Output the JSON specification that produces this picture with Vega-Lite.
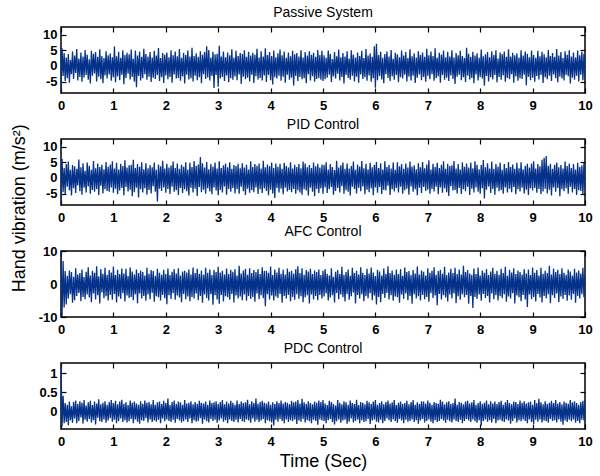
{
"$schema": "https://vega.github.io/schema/vega-lite/v6.json",
"background": "white",
"padding": {"left": 11, "top": 5, "right": 14, "bottom": 4},
"spacing": 46,
"bounds": "flush",
"title": {"text": "Hand vibration (m/s²)", "orient": "left", "anchor": "middle", "fontSize": 18, "fontWeight": "normal", "font": "Liberation Sans", "color": "black", "offset": 8, "dx": 30},
"config": {"view": {"stroke": "black", "strokeWidth": 1.5}, "font": "Liberation Sans", "title": {"fontSize": 14, "fontWeight": "normal", "offset": 6, "color": "black"}, "axis": {"domain": false, "grid": false, "tickColor": "black", "tickSize": -5, "tickWidth": 1.2, "labelFont": "Liberation Sans", "labelFontSize": 13, "labelFontWeight": "bold", "labelColor": "black", "labelFlush": false, "labelOverlap": false, "labelExpr": "'' + datum.value", "titleFont": "Liberation Sans", "titleFontSize": 18, "titleFontWeight": "normal", "titleColor": "black"}},
"data": {"values": [
{"t":0,"a":-7.9,"b":-8,"c":9.8,"d":1.22},
{"t":0.02,"a":5.6,"b":6.1,"c":-9.8,"d":-0.38},
{"t":0.04,"a":-3.2,"b":-4.5,"c":7,"d":0.41},
{"t":0.06,"a":4.1,"b":3.2,"c":-7.1,"d":-0.3},
{"t":0.08,"a":-4.8,"b":-5.1,"c":3.9,"d":0.22},
{"t":0.1,"a":2.7,"b":4.4,"c":-6.2,"d":-0.27},
{"t":0.12,"a":-3.9,"b":-2.8,"c":2.5,"d":0.18},
{"t":0.14,"a":3.8,"b":5.2,"c":-4.4,"d":-0.35},
{"t":0.16,"a":-5.3,"b":-3.9,"c":4.1,"d":0.26},
{"t":0.18,"a":1.9,"b":2.6,"c":-3.1,"d":-0.22},
{"t":0.2,"a":-2.6,"b":-5.6,"c":3.6,"d":0.14},
{"t":0.22,"a":4.6,"b":4.1,"c":-5.7,"d":-0.29},
{"t":0.24,"a":-4.1,"b":-3.3,"c":2.2,"d":0.25},
{"t":0.26,"a":3.3,"b":3.7,"c":-4.9,"d":-0.18},
{"t":0.28,"a":-2.2,"b":-4.8,"c":4.8,"d":0.29},
{"t":0.3,"a":5.4,"b":2.9,"c":-3.6,"d":-0.3},
{"t":0.32,"a":-4.6,"b":-2.4,"c":2.9,"d":0.2},
{"t":0.34,"a":2.4,"b":5.9,"c":-2.7,"d":-0.24},
{"t":0.36,"a":-3.5,"b":-4.2,"c":3.3,"d":0.27},
{"t":0.38,"a":4.3,"b":3.4,"c":-5.2,"d":-0.15},
{"t":0.4,"a":-5,"b":-5.3,"c":4.4,"d":0.23},
{"t":0.42,"a":3,"b":4.7,"c":-3.9,"d":-0.31},
{"t":0.44,"a":-3.7,"b":-3.1,"c":2.1,"d":0.3},
{"t":0.46,"a":5.1,"b":2.3,"c":-4.6,"d":-0.21},
{"t":0.48,"a":-2.9,"b":-4.6,"c":3.7,"d":0.16},
{"t":0.5,"a":3.6,"b":4.9,"c":-3.2,"d":-0.26},
{"t":0.52,"a":-4.4,"b":-2.7,"c":5.1,"d":0.24},
{"t":0.54,"a":2.1,"b":3.9,"c":-4.1,"d":-0.19},
{"t":0.56,"a":-5.6,"b":-5,"c":2.6,"d":0.28},
{"t":0.58,"a":4.8,"b":2.6,"c":-5.5,"d":-0.28},
{"t":0.6,"a":-3.1,"b":-3.8,"c":4,"d":0.17},
{"t":0.62,"a":3.9,"b":5.4,"c":-2.9,"d":-0.22},
{"t":0.64,"a":-2.4,"b":-4.4,"c":3.4,"d":0.26},
{"t":0.66,"a":4.4,"b":3.1,"c":-4.7,"d":-0.33},
{"t":0.68,"a":-4.9,"b":-3.5,"c":5.4,"d":0.21},
{"t":0.7,"a":2.9,"b":4.6,"c":-3.4,"d":-0.16},
{"t":0.72,"a":-3.4,"b":-5.4,"c":2.3,"d":0.32},
{"t":0.74,"a":5.3,"b":3.5,"c":-5.9,"d":-0.25},
{"t":0.76,"a":-4.2,"b":-2.5,"c":4.5,"d":0.19},
{"t":0.78,"a":3.2,"b":4.2,"c":-2.6,"d":-0.27},
{"t":0.8,"a":-5.5,"b":-4.9,"c":3.1,"d":0.23},
{"t":0.82,"a":2.5,"b":2.8,"c":-4.3,"d":-0.2},
{"t":0.84,"a":-3,"b":-3.6,"c":4.9,"d":0.27},
{"t":0.86,"a":4.7,"b":5.1,"c":-3.7,"d":-0.29},
{"t":0.88,"a":-4,"b":-4.1,"c":2.8,"d":0.18},
{"t":0.9,"a":3.4,"b":3.6,"c":-5,"d":-0.23},
{"t":0.92,"a":-2.7,"b":-4.4,"c":4.2,"d":0.25},
{"t":0.94,"a":4,"b":4.3,"c":-3.3,"d":-0.17},
{"t":0.96,"a":-4.7,"b":-3,"c":3.5,"d":0.3},
{"t":0.98,"a":2.8,"b":5.3,"c":-4.8,"d":-0.26},
{"t":1,"a":-3.6,"b":-4.7,"c":5.3,"d":0.22},
{"t":1.02,"a":6.2,"b":3,"c":-3,"d":-0.21},
{"t":1.04,"a":-5.2,"b":-3.4,"c":2.7,"d":0.28},
{"t":1.06,"a":3.1,"b":4.8,"c":-5.6,"d":-0.3},
{"t":1.08,"a":-3.3,"b":-5.2,"c":4.3,"d":0.19},
{"t":1.1,"a":4.5,"b":2.7,"c":-3.8,"d":-0.24},
{"t":1.12,"a":-4.5,"b":-4,"c":3,"d":0.26},
{"t":1.14,"a":2.6,"b":4.5,"c":-4.5,"d":-0.18},
{"t":1.16,"a":-2.8,"b":-3.2,"c":4.7,"d":0.31},
{"t":1.18,"a":5,"b":3.8,"c":-2.8,"d":-0.27},
{"t":1.2,"a":-5.8,"b":-5.5,"c":3.2,"d":0.2},
{"t":1.22,"a":3.5,"b":5.6,"c":-5.3,"d":-0.22},
{"t":1.24,"a":-3.8,"b":-2.9,"c":4.6,"d":0.24},
{"t":1.26,"a":4.2,"b":3.3,"c":-3.5,"d":-0.28},
{"t":1.28,"a":-2.5,"b":-4.3,"c":2.4,"d":0.17},
{"t":1.3,"a":3.7,"b":4,"c":-4.2,"d":-0.25},
{"t":1.32,"a":-4.3,"b":-3.7,"c":5,"d":0.29},
{"t":1.34,"a":5.2,"b":4.2,"c":-3.9,"d":-0.19},
{"t":1.36,"a":-3.5,"b":-5.8,"c":3.8,"d":0.23},
{"t":1.38,"a":2.3,"b":5.8,"c":-4.9,"d":-0.3},
{"t":1.4,"a":-5,"b":-4.5,"c":2.9,"d":0.26},
{"t":1.42,"a":4.9,"b":3.2,"c":-3.1,"d":-0.2},
{"t":1.44,"a":-6.8,"b":-3.1,"c":4.4,"d":0.21},
{"t":1.46,"a":3.3,"b":4.4,"c":-5.8,"d":-0.26},
{"t":1.48,"a":-3.2,"b":-6.2,"c":3.3,"d":0.18},
{"t":1.5,"a":4.6,"b":3.6,"c":-2.9,"d":-0.31},
{"t":1.52,"a":-4.6,"b":-3.6,"c":4.1,"d":0.27},
{"t":1.54,"a":2.9,"b":5,"c":-4.4,"d":-0.22},
{"t":1.56,"a":-3.9,"b":-4.6,"c":3.6,"d":0.2},
{"t":1.58,"a":5.5,"b":2.8,"c":-3.6,"d":-0.24},
{"t":1.6,"a":-2.6,"b":-3.3,"c":2.6,"d":0.29},
{"t":1.62,"a":3.8,"b":4.7,"c":-5.1,"d":-0.17},
{"t":1.64,"a":-4.4,"b":-5.3,"c":4.9,"d":0.23},
{"t":1.66,"a":3,"b":3.1,"c":-3.2,"d":-0.28},
{"t":1.68,"a":-3.4,"b":-3.8,"c":3.1,"d":0.25},
{"t":1.7,"a":4.4,"b":4.1,"c":-4.6,"d":-0.2},
{"t":1.72,"a":-5.1,"b":-4.9,"c":4.2,"d":0.19},
{"t":1.74,"a":2.7,"b":3.4,"c":-2.7,"d":-0.27},
{"t":1.76,"a":-3.7,"b":-2.6,"c":3.9,"d":0.3},
{"t":1.78,"a":4.8,"b":4.9,"c":-5.4,"d":-0.23},
{"t":1.8,"a":-4.1,"b":-4.4,"c":2.5,"d":0.18},
{"t":1.82,"a":3.3,"b":2.6,"c":-3.7,"d":-0.26},
{"t":1.84,"a":-2.9,"b":-7.5,"c":4.6,"d":0.24},
{"t":1.86,"a":5.7,"b":4.3,"c":-4,"d":-0.21},
{"t":1.88,"a":-4.8,"b":-3.4,"c":3.4,"d":0.26},
{"t":1.9,"a":2.5,"b":3.7,"c":-5,"d":-0.3},
{"t":1.92,"a":-3.6,"b":-4.1,"c":2.8,"d":0.2},
{"t":1.94,"a":4.1,"b":5.5,"c":-3.3,"d":-0.18},
{"t":1.96,"a":-5.4,"b":-3,"c":4.3,"d":0.28},
{"t":1.98,"a":3.6,"b":3,"c":-4.3,"d":-0.25},
{"t":2,"a":-3,"b":-4.7,"c":3,"d":0.22},
{"t":2.02,"a":4.3,"b":4.5,"c":-6.1,"d":-0.2},
{"t":2.04,"a":-4.2,"b":-3.5,"c":4.7,"d":0.34},
{"t":2.06,"a":2.8,"b":3.3,"c":-3.4,"d":-0.24},
{"t":2.08,"a":-3.5,"b":-5.1,"c":2.7,"d":0.17},
{"t":2.1,"a":5,"b":4,"c":-4.5,"d":-0.27},
{"t":2.12,"a":-5.3,"b":-2.8,"c":3.7,"d":0.25},
{"t":2.14,"a":3.4,"b":5.2,"c":-2.8,"d":-0.21},
{"t":2.16,"a":-2.7,"b":-4.4,"c":4.5,"d":0.29},
{"t":2.18,"a":4.6,"b":3.2,"c":-4.8,"d":-0.29},
{"t":2.2,"a":-4,"b":-3.9,"c":3.2,"d":0.2},
{"t":2.22,"a":3.1,"b":4.6,"c":-3.5,"d":-0.19},
{"t":2.24,"a":-3.8,"b":-5.4,"c":4.8,"d":0.26},
{"t":2.26,"a":5.4,"b":2.9,"c":-4.1,"d":-0.23},
{"t":2.28,"a":-4.7,"b":-3.2,"c":2.6,"d":0.24},
{"t":2.3,"a":2.6,"b":4.2,"c":-5.5,"d":-0.28},
{"t":2.32,"a":-3.3,"b":-4.8,"c":3.8,"d":0.18},
{"t":2.34,"a":4.2,"b":3.6,"c":-3,"d":-0.25},
{"t":2.36,"a":-5.6,"b":-3.6,"c":4,"d":0.3},
{"t":2.38,"a":3.5,"b":5,"c":-4.6,"d":-0.2},
{"t":2.4,"a":-2.8,"b":-4.2,"c":3.5,"d":0.21},
{"t":2.42,"a":4.9,"b":2.7,"c":-3.8,"d":-0.27},
{"t":2.44,"a":-4.3,"b":-5.6,"c":4.4,"d":0.23},
{"t":2.46,"a":3,"b":4.8,"c":-5.2,"d":-0.18},
{"t":2.48,"a":-3.9,"b":-3.1,"c":2.9,"d":0.27},
{"t":2.5,"a":5.8,"b":3.5,"c":-3.9,"d":-0.3},
{"t":2.52,"a":-4.9,"b":-4.6,"c":5,"d":0.19},
{"t":2.54,"a":3.2,"b":5.4,"c":-4.4,"d":-0.22},
{"t":2.56,"a":-3.1,"b":-3.4,"c":3.3,"d":0.25},
{"t":2.58,"a":4,"b":3.9,"c":-2.9,"d":-0.26},
{"t":2.6,"a":-4.5,"b":-5.7,"c":4.6,"d":0.2},
{"t":2.62,"a":2.9,"b":4.3,"c":-4.9,"d":-0.24},
{"t":2.64,"a":-3.6,"b":-2.9,"c":3.1,"d":0.28},
{"t":2.66,"a":4.7,"b":6.7,"c":-3.6,"d":-0.17},
{"t":2.68,"a":-5.5,"b":-4.5,"c":4.1,"d":0.23},
{"t":2.7,"a":3.6,"b":4.7,"c":-5.7,"d":-0.31},
{"t":2.72,"a":-2.6,"b":-3.7,"c":2.8,"d":0.21},
{"t":2.74,"a":4.4,"b":3.3,"c":-3.2,"d":-0.2},
{"t":2.76,"a":-4.1,"b":-5,"c":4.9,"d":0.26},
{"t":2.78,"a":6.3,"b":5.1,"c":-4.2,"d":-0.25},
{"t":2.8,"a":-3.7,"b":-3.3,"c":3.4,"d":0.18},
{"t":2.82,"a":5.1,"b":2.8,"c":-5,"d":-0.28},
{"t":2.84,"a":-4.6,"b":-4.3,"c":4.4,"d":0.29},
{"t":2.86,"a":2.7,"b":4.4,"c":-3.1,"d":-0.19},
{"t":2.88,"a":-3.2,"b":-5.2,"c":2.7,"d":0.22},
{"t":2.9,"a":4.5,"b":3.6,"c":-6.3,"d":-0.24},
{"t":2.92,"a":-7,"b":-3,"c":4.2,"d":0.24},
{"t":2.94,"a":3.7,"b":4.9,"c":-3.4,"d":-0.21},
{"t":2.96,"a":-2.9,"b":-4,"c":3.6,"d":0.27},
{"t":2.98,"a":3.9,"b":3,"c":-4.7,"d":-0.29},
{"t":3,"a":-6.6,"b":-5.5,"c":5.2,"d":0.2},
{"t":3.02,"a":6.4,"b":5.3,"c":-6,"d":-0.23},
{"t":3.04,"a":-4,"b":-3.8,"c":3.5,"d":0.25},
{"t":3.06,"a":3,"b":3.2,"c":-3.3,"d":-0.18},
{"t":3.08,"a":-3.5,"b":-4.6,"c":4,"d":0.3},
{"t":3.1,"a":4.6,"b":4,"c":-5.3,"d":-0.26},
{"t":3.12,"a":-4.8,"b":-2.7,"c":2.9,"d":0.19},
{"t":3.14,"a":2.8,"b":4.6,"c":-3.7,"d":-0.22},
{"t":3.16,"a":-3,"b":-5.3,"c":4.7,"d":0.26},
{"t":3.18,"a":4.3,"b":3.4,"c":-4,"d":-0.3},
{"t":3.2,"a":-5.2,"b":-3.5,"c":3,"d":0.21},
{"t":3.22,"a":3.4,"b":5,"c":-4.8,"d":-0.2},
{"t":3.24,"a":-3.9,"b":-4.4,"c":4.3,"d":0.28},
{"t":3.26,"a":5.3,"b":2.9,"c":-3,"d":-0.24},
{"t":3.28,"a":-4.4,"b":-3.2,"c":3.7,"d":0.23},
{"t":3.3,"a":2.6,"b":4.1,"c":-5.6,"d":-0.27},
{"t":3.32,"a":-3.3,"b":-4.9,"c":4.5,"d":0.18},
{"t":3.34,"a":4.8,"b":3.8,"c":-3.5,"d":-0.21},
{"t":3.36,"a":-4.5,"b":-3.6,"c":2.6,"d":0.29},
{"t":3.38,"a":3.2,"b":4.5,"c":-4.4,"d":-0.28},
{"t":3.4,"a":-2.7,"b":-5,"c":5.5,"d":0.2},
{"t":3.42,"a":4.1,"b":3.1,"c":-3.8,"d":-0.19},
{"t":3.44,"a":-5.7,"b":-2.8,"c":3.2,"d":0.26},
{"t":3.46,"a":3.8,"b":4.7,"c":-4.9,"d":-0.25},
{"t":3.48,"a":-3.4,"b":-4.2,"c":4.1,"d":0.22},
{"t":3.5,"a":5,"b":3.3,"c":-3.2,"d":-0.27},
{"t":3.52,"a":-4.2,"b":-5.4,"c":4.6,"d":0.24},
{"t":3.54,"a":2.9,"b":4.2,"c":-5.1,"d":-0.2},
{"t":3.56,"a":-3.7,"b":-3.4,"c":2.8,"d":0.31},
{"t":3.58,"a":4.5,"b":2.7,"c":-3.6,"d":-0.23},
{"t":3.6,"a":-4.9,"b":-4.7,"c":4.8,"d":0.19},
{"t":3.62,"a":3.3,"b":5.3,"c":-4.5,"d":-0.29},
{"t":3.64,"a":-2.8,"b":-3.9,"c":3.3,"d":0.27},
{"t":3.66,"a":4.2,"b":3.5,"c":-3.9,"d":-0.18},
{"t":3.68,"a":-5.4,"b":-4.5,"c":4.2,"d":0.22},
{"t":3.7,"a":3.6,"b":4.4,"c":-5.4,"d":-0.26},
{"t":3.72,"a":-3.3,"b":-3,"c":3.6,"d":0.34},
{"t":3.74,"a":5.5,"b":3.9,"c":-2.9,"d":-0.21},
{"t":3.76,"a":-4.3,"b":-5.1,"c":4.5,"d":0.2},
{"t":3.78,"a":2.7,"b":4.6,"c":-4.6,"d":-0.27},
{"t":3.8,"a":-3.8,"b":-3.6,"c":3,"d":0.25},
{"t":3.82,"a":4.7,"b":3,"c":-3.4,"d":-0.23},
{"t":3.84,"a":-4.6,"b":-4.8,"c":5.1,"d":0.28},
{"t":3.86,"a":3,"b":5.5,"c":-4.3,"d":-0.19},
{"t":3.88,"a":-3,"b":-3.3,"c":3.9,"d":0.23},
{"t":3.9,"a":5.6,"b":3.4,"c":-6.7,"d":-0.3},
{"t":3.92,"a":-5.1,"b":-4.1,"c":4,"d":0.21},
{"t":3.94,"a":3.5,"b":4.3,"c":-3.1,"d":-0.22},
{"t":3.96,"a":-2.9,"b":-5.5,"c":3.4,"d":0.26},
{"t":3.98,"a":4.4,"b":3.7,"c":-4.7,"d":-0.25},
{"t":4,"a":-4.5,"b":-3.7,"c":5.3,"d":0.18},
{"t":4.02,"a":3.2,"b":4.9,"c":-3.5,"d":-0.28},
{"t":4.04,"a":-5.9,"b":-4.9,"c":2.7,"d":0.24},
{"t":4.06,"a":4.9,"b":3.2,"c":-5,"d":-0.36},
{"t":4.08,"a":-3.6,"b":-6.4,"c":4.4,"d":0.2},
{"t":4.1,"a":2.8,"b":4.6,"c":-3.8,"d":-0.21},
{"t":4.12,"a":-4,"b":-3.2,"c":3.5,"d":0.27},
{"t":4.14,"a":4,"b":3.6,"c":-4.2,"d":-0.26},
{"t":4.16,"a":-3.1,"b":-4.6,"c":4.9,"d":0.22},
{"t":4.18,"a":5.2,"b":4.5,"c":-3,"d":-0.19},
{"t":4.2,"a":-4.7,"b":-3.4,"c":3.1,"d":0.29},
{"t":4.22,"a":3.4,"b":2.9,"c":-5.7,"d":-0.24},
{"t":4.24,"a":-3.4,"b":-5.2,"c":4.3,"d":0.21},
{"t":4.26,"a":4.6,"b":4.8,"c":-3.6,"d":-0.3},
{"t":4.28,"a":-5.3,"b":-3.1,"c":2.9,"d":0.25},
{"t":4.3,"a":2.6,"b":3.8,"c":-4.4,"d":-0.2},
{"t":4.32,"a":-2.8,"b":-4.3,"c":4.7,"d":0.23},
{"t":4.34,"a":4.3,"b":3.3,"c":-3.3,"d":-0.27},
{"t":4.36,"a":-4.4,"b":-3.8,"c":3.7,"d":0.19},
{"t":4.38,"a":3.1,"b":5,"c":-5.2,"d":-0.22},
{"t":4.4,"a":-3.7,"b":-4.5,"c":4,"d":0.28},
{"t":4.42,"a":4.8,"b":3,"c":-3.9,"d":-0.25},
{"t":4.44,"a":-6.2,"b":-3.5,"c":3.2,"d":0.24},
{"t":4.46,"a":3.7,"b":4.2,"c":-4.8,"d":-0.2},
{"t":4.48,"a":-3.2,"b":-5,"c":4.5,"d":0.26},
{"t":4.5,"a":4.1,"b":3.5,"c":-3.1,"d":-0.32},
{"t":4.52,"a":-4.8,"b":-3.9,"c":5.4,"d":0.3},
{"t":4.54,"a":3,"b":4.4,"c":-4.5,"d":-0.23},
{"t":4.56,"a":-3.5,"b":-4.6,"c":3.3,"d":0.21},
{"t":4.58,"a":5,"b":3.1,"c":-3.7,"d":-0.26},
{"t":4.6,"a":-4.2,"b":-5.3,"c":4.8,"d":0.33},
{"t":4.62,"a":2.7,"b":5.2,"c":-5.5,"d":-0.19},
{"t":4.64,"a":-3.9,"b":-3.6,"c":2.8,"d":0.24},
{"t":4.66,"a":4.4,"b":4.6,"c":-4,"d":-0.28},
{"t":4.68,"a":-5.5,"b":-4,"c":4.2,"d":0.2},
{"t":4.7,"a":3.3,"b":3.4,"c":-3.4,"d":-0.22},
{"t":4.72,"a":-2.6,"b":-5.6,"c":3.8,"d":0.27},
{"t":4.74,"a":4.7,"b":4.1,"c":-5.9,"d":-0.25},
{"t":4.76,"a":-4.6,"b":-3.1,"c":4.6,"d":0.22},
{"t":4.78,"a":3.6,"b":3.2,"c":-3.2,"d":-0.3},
{"t":4.8,"a":-3.3,"b":-4.4,"c":3,"d":0.19},
{"t":4.82,"a":4.2,"b":4.9,"c":-4.7,"d":-0.21},
{"t":4.84,"a":-5,"b":-5.8,"c":4.1,"d":0.26},
{"t":4.86,"a":2.9,"b":3.7,"c":-3.6,"d":-0.24},
{"t":4.88,"a":-4.1,"b":-3.5,"c":3.6,"d":0.23},
{"t":4.9,"a":5.1,"b":4.5,"c":-4.9,"d":-0.34},
{"t":4.92,"a":-3.8,"b":-4.8,"c":4.4,"d":0.29},
{"t":4.94,"a":3.5,"b":3.3,"c":-3.3,"d":-0.2},
{"t":4.96,"a":-4.4,"b":-3.3,"c":2.7,"d":0.25},
{"t":4.98,"a":4.8,"b":4.3,"c":-4.4,"d":-0.23},
{"t":5,"a":-4.8,"b":-5,"c":4,"d":0.3},
{"t":5.02,"a":3.4,"b":4.1,"c":-3.8,"d":-0.24},
{"t":5.04,"a":-4.2,"b":-3,"c":4.5,"d":0.21},
{"t":5.06,"a":2.6,"b":5,"c":-2.9,"d":-0.3},
{"t":5.08,"a":-3.7,"b":-4.8,"c":3.1,"d":0.17},
{"t":5.1,"a":4.9,"b":2.7,"c":-5,"d":-0.22},
{"t":5.12,"a":-2.8,"b":-3.6,"c":2.6,"d":0.28},
{"t":5.14,"a":3.9,"b":4.4,"c":-4.1,"d":-0.19},
{"t":5.16,"a":-5.1,"b":-2.9,"c":4.8,"d":0.25},
{"t":5.18,"a":2.2,"b":3.5,"c":-3.4,"d":-0.27},
{"t":5.2,"a":-3.3,"b":-5.3,"c":2.2,"d":0.2},
{"t":5.22,"a":4.4,"b":2.5,"c":-5.6,"d":-0.33},
{"t":5.24,"a":-4,"b":-4.1,"c":3.7,"d":0.16},
{"t":5.26,"a":3.1,"b":5.5,"c":-2.7,"d":-0.25},
{"t":5.28,"a":-2.5,"b":-3.2,"c":4.2,"d":0.3},
{"t":5.3,"a":5.2,"b":3.3,"c":-4.6,"d":-0.2},
{"t":5.32,"a":-4.6,"b":-4.6,"c":3,"d":0.23},
{"t":5.34,"a":2.8,"b":4,"c":-3.2,"d":-0.29},
{"t":5.36,"a":-3.5,"b":-2.6,"c":5.2,"d":0.19},
{"t":5.38,"a":4.1,"b":4.9,"c":-4,"d":-0.23},
{"t":5.4,"a":-5.6,"b":-5,"c":2.8,"d":0.27},
{"t":5.42,"a":3,"b":2.9,"c":-5.3,"d":-0.21},
{"t":5.44,"a":-2.9,"b":-3.9,"c":3.6,"d":0.24},
{"t":5.46,"a":4.7,"b":4.6,"c":-3,"d":-0.31},
{"t":5.48,"a":-3.8,"b":-4.4,"c":4.4,"d":0.18},
{"t":5.5,"a":2.4,"b":3,"c":-4.8,"d":-0.26},
{"t":5.52,"a":-4.4,"b":-5.6,"c":2.5,"d":0.29},
{"t":5.54,"a":5,"b":3.8,"c":-3.7,"d":-0.18},
{"t":5.56,"a":-3.1,"b":-2.8,"c":4.9,"d":0.22},
{"t":5.58,"a":3.6,"b":5.2,"c":-2.6,"d":-0.28},
{"t":5.6,"a":-4.9,"b":-3.5,"c":3.3,"d":0.2},
{"t":5.62,"a":2.7,"b":2.6,"c":-5.9,"d":-0.24},
{"t":5.64,"a":-3.4,"b":-4.9,"c":4,"d":0.31},
{"t":5.66,"a":4.3,"b":4.3,"c":-3.3,"d":-0.2},
{"t":5.68,"a":-5.3,"b":-3.1,"c":2.9,"d":0.17},
{"t":5.7,"a":3.2,"b":3.6,"c":-4.4,"d":-0.3},
{"t":5.72,"a":-2.7,"b":-4.2,"c":5.1,"d":0.25},
{"t":5.74,"a":4.8,"b":5.4,"c":-3.1,"d":-0.22},
{"t":5.76,"a":-4.1,"b":-2.7,"c":3.4,"d":0.23},
{"t":5.78,"a":2.5,"b":3.1,"c":-5.2,"d":-0.27},
{"t":5.8,"a":-3.6,"b":-5.2,"c":2.7,"d":0.19},
{"t":5.82,"a":5.4,"b":4.5,"c":-3.6,"d":-0.25},
{"t":5.84,"a":-4.7,"b":-3.7,"c":4.6,"d":0.28},
{"t":5.86,"a":3.3,"b":2.8,"c":-4.3,"d":-0.19},
{"t":5.88,"a":-3,"b":-4.5,"c":3.2,"d":0.24},
{"t":5.9,"a":4,"b":4.8,"c":-2.8,"d":-0.32},
{"t":5.92,"a":-5,"b":-3.3,"c":5,"d":0.2},
{"t":5.94,"a":2.9,"b":3.4,"c":-4.9,"d":-0.23},
{"t":5.96,"a":-3.9,"b":-5.5,"c":3.5,"d":0.26},
{"t":5.98,"a":6.3,"b":4.2,"c":-3.5,"d":-0.2},
{"t":6,"a":-6.9,"b":-3,"c":2.4,"d":0.3},
{"t":6.02,"a":7.1,"b":5.1,"c":-6.2,"d":-0.26},
{"t":6.04,"a":-4.5,"b":-4.7,"c":4.3,"d":0.18},
{"t":6.06,"a":3.5,"b":3.2,"c":-3.9,"d":-0.28},
{"t":6.08,"a":-3.2,"b":-2.9,"c":3.8,"d":0.22},
{"t":6.1,"a":4.5,"b":4.7,"c":-5.5,"d":-0.21},
{"t":6.12,"a":-4.3,"b":-5.1,"c":2.6,"d":0.27},
{"t":6.14,"a":2.6,"b":2.7,"c":-3,"d":-0.3},
{"t":6.16,"a":-5.5,"b":-3.8,"c":4.7,"d":0.19},
{"t":6.18,"a":3.8,"b":5.3,"c":-4.2,"d":-0.24},
{"t":6.2,"a":-2.6,"b":-4,"c":3.1,"d":0.25},
{"t":6.22,"a":4.6,"b":3.5,"c":-2.7,"d":-0.18},
{"t":6.24,"a":-3.8,"b":-2.5,"c":5.4,"d":0.29},
{"t":6.26,"a":3,"b":4.1,"c":-4.7,"d":-0.22},
{"t":6.28,"a":-4.8,"b":-5.4,"c":3.3,"d":0.21},
{"t":6.3,"a":5.1,"b":3,"c":-3.4,"d":-0.27},
{"t":6.32,"a":-3.3,"b":-3.6,"c":4.1,"d":0.24},
{"t":6.34,"a":2.3,"b":4.9,"c":-5.1,"d":-0.2},
{"t":6.36,"a":-4.4,"b":-4.3,"c":2.8,"d":0.3},
{"t":6.38,"a":4.2,"b":2.6,"c":-3.8,"d":-0.25},
{"t":6.4,"a":-2.9,"b":-3.2,"c":4.4,"d":0.17},
{"t":6.42,"a":3.7,"b":5,"c":-4,"d":-0.29},
{"t":6.44,"a":-5.2,"b":-4.6,"c":3,"d":0.23},
{"t":6.46,"a":2.8,"b":3.7,"c":-5.7,"d":-0.19},
{"t":6.48,"a":-3.6,"b":-2.8,"c":4.5,"d":0.26},
{"t":6.5,"a":4.9,"b":4.4,"c":-3.2,"d":-0.23},
{"t":6.52,"a":-4,"b":-5,"c":2.5,"d":0.2},
{"t":6.54,"a":3.3,"b":2.9,"c":-4.5,"d":-0.3},
{"t":6.56,"a":-2.8,"b":-3.9,"c":5,"d":0.22},
{"t":6.58,"a":4.4,"b":4.6,"c":-2.9,"d":-0.21},
{"t":6.6,"a":-4.9,"b":-3.4,"c":3.6,"d":0.28},
{"t":6.62,"a":2.5,"b":3.3,"c":-4.9,"d":-0.26},
{"t":6.64,"a":-3.4,"b":-5.3,"c":3.9,"d":0.19},
{"t":6.66,"a":5.3,"b":5.2,"c":-3.6,"d":-0.24},
{"t":6.68,"a":-4.6,"b":-2.7,"c":2.7,"d":0.25},
{"t":6.7,"a":3.1,"b":3.6,"c":-6,"d":-0.2},
{"t":6.72,"a":-3.1,"b":-4.4,"c":4.2,"d":0.3},
{"t":6.74,"a":4,"b":4,"c":-3.1,"d":-0.27},
{"t":6.76,"a":-5.4,"b":-3.6,"c":3.2,"d":0.18},
{"t":6.78,"a":2.7,"b":2.8,"c":-4.4,"d":-0.22},
{"t":6.8,"a":-3.7,"b":-5.5,"c":5.3,"d":0.24},
{"t":6.82,"a":4.7,"b":4.7,"c":-3.7,"d":-0.31},
{"t":6.84,"a":-2.7,"b":-3.1,"c":2.9,"d":0.2},
{"t":6.86,"a":3.5,"b":3.4,"c":-5,"d":-0.23},
{"t":6.88,"a":-4.5,"b":-4.8,"c":4.1,"d":0.27},
{"t":6.9,"a":4.3,"b":5.1,"c":-3.3,"d":-0.19},
{"t":6.92,"a":-3.5,"b":-2.9,"c":3.7,"d":0.26},
{"t":6.94,"a":2.9,"b":3.1,"c":-4.6,"d":-0.28},
{"t":6.96,"a":-5,"b":-4.1,"c":2.6,"d":0.21},
{"t":6.98,"a":5.5,"b":4.3,"c":-3.9,"d":-0.24},
{"t":7,"a":-3.2,"b":-3.7,"c":4.8,"d":0.29},
{"t":7.02,"a":3.4,"b":5.6,"c":-5.4,"d":-0.2},
{"t":7.04,"a":-4.2,"b":-5,"c":3.4,"d":0.23},
{"t":7.06,"a":4.6,"b":2.7,"c":-2.8,"d":-0.26},
{"t":7.08,"a":-2.6,"b":-3.5,"c":4,"d":0.18},
{"t":7.1,"a":3.2,"b":4.5,"c":-4.2,"d":-0.3},
{"t":7.12,"a":-4.7,"b":-4.3,"c":5.1,"d":0.25},
{"t":7.14,"a":5.6,"b":3.5,"c":-3.5,"d":-0.22},
{"t":7.16,"a":-3.9,"b":-2.8,"c":2.8,"d":0.22},
{"t":7.18,"a":2.6,"b":4.8,"c":-6.4,"d":-0.27},
{"t":7.2,"a":-3.3,"b":-5.2,"c":3.9,"d":0.2},
{"t":7.22,"a":4.2,"b":3.2,"c":-3,"d":-0.24},
{"t":7.24,"a":-5.3,"b":-3,"c":4.3,"d":0.31},
{"t":7.26,"a":3.6,"b":4.2,"c":-4.7,"d":-0.19},
{"t":7.28,"a":-2.9,"b":-4.7,"c":3.1,"d":0.26},
{"t":7.3,"a":4.9,"b":5.3,"c":-3.4,"d":-0.23},
{"t":7.32,"a":-4.4,"b":-3.3,"c":5.2,"d":0.19},
{"t":7.34,"a":2.8,"b":2.9,"c":-4.1,"d":-0.29},
{"t":7.36,"a":-3.7,"b":-4.5,"c":2.7,"d":0.24},
{"t":7.38,"a":4.5,"b":4.5,"c":-5.3,"d":-0.21},
{"t":7.4,"a":-4.8,"b":-5.7,"c":3.5,"d":0.27},
{"t":7.42,"a":3,"b":3.8,"c":-3.2,"d":-0.25},
{"t":7.44,"a":-3,"b":-2.6,"c":4.6,"d":0.2},
{"t":7.46,"a":5,"b":4,"c":-4.4,"d":-0.28},
{"t":7.48,"a":-4.1,"b":-4,"c":3.3,"d":0.22},
{"t":7.5,"a":2.7,"b":5.4,"c":-2.9,"d":-0.2},
{"t":7.52,"a":-5.7,"b":-3.8,"c":4.9,"d":0.34},
{"t":7.54,"a":4.1,"b":3,"c":-5.8,"d":-0.24},
{"t":7.56,"a":-3.4,"b":-4.9,"c":3,"d":0.18},
{"t":7.58,"a":3.4,"b":4.4,"c":-3.7,"d":-0.27},
{"t":7.6,"a":-2.8,"b":-3.2,"c":4.4,"d":0.25},
{"t":7.62,"a":4.8,"b":2.7,"c":-4.8,"d":-0.21},
{"t":7.64,"a":-4.5,"b":-5.1,"c":2.9,"d":0.23},
{"t":7.66,"a":3.2,"b":5,"c":-3.1,"d":-0.3},
{"t":7.68,"a":-3.6,"b":-3.6,"c":5.5,"d":0.19},
{"t":7.7,"a":2.5,"b":3.6,"c":-4,"d":-0.24},
{"t":7.72,"a":-5.1,"b":-4.2,"c":3.6,"d":0.26},
{"t":7.74,"a":5.8,"b":4.6,"c":-3.3,"d":-0.19},
{"t":7.76,"a":-3.1,"b":-2.8,"c":4.2,"d":0.28},
{"t":7.78,"a":3.9,"b":3.3,"c":-6,"d":-0.23},
{"t":7.8,"a":-4.3,"b":-5.4,"c":3.2,"d":0.21},
{"t":7.82,"a":2.9,"b":4.9,"c":-3.6,"d":-0.27},
{"t":7.84,"a":-3.8,"b":-3.4,"c":2.8,"d":0.24},
{"t":7.86,"a":4.5,"b":3.1,"c":-7.3,"d":-0.2},
{"t":7.88,"a":-5.5,"b":-4.6,"c":4.7,"d":0.3},
{"t":7.9,"a":3.3,"b":5.3,"c":-3.9,"d":-0.25},
{"t":7.92,"a":-2.7,"b":-3,"c":3,"d":0.18},
{"t":7.94,"a":4,"b":4.2,"c":-4.5,"d":-0.29},
{"t":7.96,"a":-4.6,"b":-4.4,"c":5,"d":0.22},
{"t":7.98,"a":2.6,"b":2.8,"c":-3.2,"d":-0.22},
{"t":8,"a":-3.5,"b":-5,"c":2.6,"d":0.27},
{"t":8.02,"a":5.2,"b":4.1,"c":-5.1,"d":-0.36},
{"t":8.04,"a":-4,"b":-3.3,"c":4.1,"d":0.2},
{"t":8.06,"a":3.1,"b":5.7,"c":-3,"d":-0.24},
{"t":8.08,"a":-6.3,"b":-6.5,"c":3.4,"d":0.23},
{"t":8.1,"a":3.7,"b":3.4,"c":-4.2,"d":-0.2},
{"t":8.12,"a":-3.2,"b":-3.7,"c":4.5,"d":0.29},
{"t":8.14,"a":4.4,"b":4.7,"c":-3.6,"d":-0.26},
{"t":8.16,"a":-4.9,"b":-2.7,"c":2.7,"d":0.19},
{"t":8.18,"a":2.8,"b":3,"c":-5.6,"d":-0.22},
{"t":8.2,"a":-3.6,"b":-4.8,"c":3.8,"d":0.27},
{"t":8.22,"a":4.7,"b":5.2,"c":-2.9,"d":-0.28},
{"t":8.24,"a":-4.3,"b":-3.5,"c":4.9,"d":0.21},
{"t":8.26,"a":3.5,"b":2.9,"c":-4.6,"d":-0.19},
{"t":8.28,"a":-2.9,"b":-5.3,"c":3.1,"d":0.26},
{"t":8.3,"a":5,"b":4.4,"c":-3.4,"d":-0.3},
{"t":8.32,"a":-5.2,"b":-3.1,"c":4,"d":0.2},
{"t":8.34,"a":2.4,"b":3.6,"c":-5,"d":-0.23},
{"t":8.36,"a":-3.5,"b":-4.2,"c":2.8,"d":0.25},
{"t":8.38,"a":4.3,"b":4.9,"c":-3.7,"d":-0.21},
{"t":8.4,"a":-4.4,"b":-3.8,"c":4.6,"d":0.28},
{"t":8.42,"a":3.8,"b":2.6,"c":-4.3,"d":-0.25},
{"t":8.44,"a":-3,"b":-5,"c":3.3,"d":0.18},
{"t":8.46,"a":4.6,"b":4.4,"c":-3.1,"d":-0.27},
{"t":8.48,"a":-5,"b":-3,"c":5.2,"d":0.24},
{"t":8.5,"a":2.9,"b":3.2,"c":-5.4,"d":-0.2},
{"t":8.52,"a":-3.8,"b":-4.6,"c":2.5,"d":0.3},
{"t":8.54,"a":5.3,"b":5.1,"c":-3.8,"d":-0.23},
{"t":8.56,"a":-4.2,"b":-3.4,"c":4.3,"d":0.22},
{"t":8.58,"a":3,"b":3.5,"c":-4.4,"d":-0.31},
{"t":8.6,"a":-2.6,"b":-4.5,"c":3.5,"d":0.19},
{"t":8.62,"a":4.2,"b":4.3,"c":-2.8,"d":-0.24},
{"t":8.64,"a":-5.3,"b":-2.9,"c":4.8,"d":0.26},
{"t":8.66,"a":3.4,"b":2.9,"c":-5.9,"d":-0.18},
{"t":8.68,"a":-3.3,"b":-5.2,"c":3,"d":0.25},
{"t":8.7,"a":4,"b":4.8,"c":-3.5,"d":-0.28},
{"t":8.72,"a":-4.7,"b":-3.6,"c":4.1,"d":0.2},
{"t":8.74,"a":2.7,"b":3.1,"c":-4,"d":-0.22},
{"t":8.76,"a":-3.9,"b":-4.3,"c":3.6,"d":0.29},
{"t":8.78,"a":5,"b":5,"c":-5.2,"d":-0.25},
{"t":8.8,"a":-4.1,"b":-3.1,"c":2.9,"d":0.23},
{"t":8.82,"a":3.3,"b":2.8,"c":-3.3,"d":-0.2},
{"t":8.84,"a":-2.8,"b":-4.9,"c":4.5,"d":0.27},
{"t":8.86,"a":4.6,"b":3.9,"c":-4.7,"d":-0.24},
{"t":8.88,"a":-6.1,"b":-3.7,"c":3.2,"d":0.21},
{"t":8.9,"a":3.9,"b":4.5,"c":-7,"d":-0.3},
{"t":8.92,"a":-3.4,"b":-5.4,"c":4.4,"d":0.24},
{"t":8.94,"a":2.8,"b":3.3,"c":-3.2,"d":-0.2},
{"t":8.96,"a":-4.5,"b":-3.3,"c":2.7,"d":0.26},
{"t":8.98,"a":4.9,"b":4.6,"c":-4.6,"d":-0.27},
{"t":9,"a":-3.7,"b":-4,"c":5,"d":0.18},
{"t":9.02,"a":3.5,"b":5.3,"c":-3.9,"d":-0.32},
{"t":9.04,"a":-5,"b":-3.2,"c":3.4,"d":0.3},
{"t":9.06,"a":2.6,"b":3,"c":-5.3,"d":-0.21},
{"t":9.08,"a":-3.2,"b":-4.7,"c":4.2,"d":0.22},
{"t":9.1,"a":4.8,"b":4.4,"c":-3,"d":-0.26},
{"t":9.12,"a":-4.3,"b":-3.5,"c":2.6,"d":0.33},
{"t":9.14,"a":3.1,"b":3.7,"c":-4.1,"d":-0.2},
{"t":9.16,"a":-2.9,"b":-5.1,"c":4.9,"d":0.24},
{"t":9.18,"a":4.5,"b":5.8,"c":-5.6,"d":-0.28},
{"t":9.2,"a":-5.4,"b":-4.3,"c":3.1,"d":0.19},
{"t":9.22,"a":3.7,"b":6.4,"c":-3.6,"d":-0.23},
{"t":9.24,"a":-3.6,"b":-3.4,"c":4,"d":0.27},
{"t":9.26,"a":2.8,"b":7,"c":-4.3,"d":-0.25},
{"t":9.28,"a":-4.2,"b":-4.9,"c":3.3,"d":0.2},
{"t":9.3,"a":5.1,"b":3.9,"c":-3.1,"d":-0.29},
{"t":9.32,"a":-3.1,"b":-3.7,"c":5.5,"d":0.23},
{"t":9.34,"a":3.2,"b":4.5,"c":-5.8,"d":-0.19},
{"t":9.36,"a":-4.8,"b":-5.6,"c":2.9,"d":0.28},
{"t":9.38,"a":4.1,"b":2.9,"c":-3.4,"d":-0.24},
{"t":9.4,"a":-2.7,"b":-3,"c":4.7,"d":0.22},
{"t":9.42,"a":2.9,"b":4.2,"c":-4.2,"d":-0.22},
{"t":9.44,"a":-3.9,"b":-4.4,"c":3.6,"d":0.3},
{"t":9.46,"a":5.4,"b":4.9,"c":-2.9,"d":-0.28},
{"t":9.48,"a":-5.2,"b":-3.2,"c":4.3,"d":0.21},
{"t":9.5,"a":3.3,"b":3.4,"c":-5.5,"d":-0.2},
{"t":9.52,"a":-3.4,"b":-5.8,"c":3,"d":0.25},
{"t":9.54,"a":4.4,"b":4.1,"c":-3.8,"d":-0.26},
{"t":9.56,"a":-4,"b":-3.6,"c":4.8,"d":0.19},
{"t":9.58,"a":2.5,"b":3,"c":-4.5,"d":-0.34},
{"t":9.6,"a":-4.6,"b":-4.2,"c":3.4,"d":0.26},
{"t":9.62,"a":4.7,"b":5.2,"c":-3.3,"d":-0.23},
{"t":9.64,"a":-2.9,"b":-3.3,"c":2.8,"d":0.23},
{"t":9.66,"a":3.6,"b":3.8,"c":-5.1,"d":-0.27},
{"t":9.68,"a":-3.3,"b":-5,"c":4.4,"d":0.2},
{"t":9.7,"a":5,"b":4.6,"c":-3.5,"d":-0.21},
{"t":9.72,"a":-5.6,"b":-2.8,"c":3.8,"d":0.3},
{"t":9.74,"a":3,"b":3.2,"c":-4.8,"d":-0.25},
{"t":9.76,"a":-3.7,"b":-4.6,"c":2.6,"d":0.24},
{"t":9.78,"a":4.3,"b":4.4,"c":-3,"d":-0.2},
{"t":9.8,"a":-4.4,"b":-3.5,"c":4.6,"d":0.27},
{"t":9.82,"a":2.7,"b":2.7,"c":-5.7,"d":-0.29},
{"t":9.84,"a":-3.1,"b":-5.4,"c":3.5,"d":0.22},
{"t":9.86,"a":4.9,"b":4.8,"c":-3.6,"d":-0.24},
{"t":9.88,"a":-4.9,"b":-3.9,"c":4.1,"d":0.18},
{"t":9.9,"a":3.4,"b":3.5,"c":-4.4,"d":-0.3},
{"t":9.92,"a":-2.8,"b":-4.1,"c":3.2,"d":0.25},
{"t":9.94,"a":4.5,"b":4,"c":-3.1,"d":-0.21},
{"t":9.96,"a":-4.5,"b":-5.2,"c":4.9,"d":0.28},
{"t":9.98,"a":3.9,"b":4.9,"c":-4,"d":-0.23},
{"t":10,"a":-4.1,"b":-3.4,"c":2.9,"d":0.3}
]},
"vconcat": [
{"title": "Passive System", "width": 524, "height": 66,
 "layer": [
  {"mark": {"type": "line", "stroke": "#04318a", "strokeWidth": 1.3, "strokeJoin": "bevel", "clip": true},
   "encoding": {
    "x": {"field": "t", "type": "quantitative", "scale": {"domain": [0, 10], "nice": false}, "axis": {"orient": "bottom", "values": [0,1,2,3,4,5,6,7,8,9,10], "title": null, "labelPadding": 11}},
    "y": {"field": "a", "type": "quantitative", "scale": {"domain": [-8.6, 12.4], "nice": false, "zero": false}, "axis": {"orient": "left", "values": [-5,0,5,10], "title": null, "labelPadding": 9}}}},
  {"mark": {"type": "point", "opacity": 0},
   "encoding": {
    "x": {"field": "t", "type": "quantitative", "axis": {"orient": "top", "values": [0,1,2,3,4,5,6,7,8,9,10], "labels": false, "title": null}},
    "y": {"field": "a", "type": "quantitative", "axis": {"orient": "right", "values": [-5,0,5,10], "labels": false, "title": null}}}}
 ],
 "resolve": {"axis": {"x": "independent", "y": "independent"}}},
{"title": "PID Control", "width": 524, "height": 66,
 "layer": [
  {"mark": {"type": "line", "stroke": "#04318a", "strokeWidth": 1.3, "strokeJoin": "bevel", "clip": true},
   "encoding": {
    "x": {"field": "t", "type": "quantitative", "scale": {"domain": [0, 10], "nice": false}, "axis": {"orient": "bottom", "values": [0,1,2,3,4,5,6,7,8,9,10], "title": null, "labelPadding": 11}},
    "y": {"field": "b", "type": "quantitative", "scale": {"domain": [-8.6, 12.4], "nice": false, "zero": false}, "axis": {"orient": "left", "values": [-5,0,5,10], "title": null, "labelPadding": 9}}}},
  {"mark": {"type": "point", "opacity": 0},
   "encoding": {
    "x": {"field": "t", "type": "quantitative", "axis": {"orient": "top", "values": [0,1,2,3,4,5,6,7,8,9,10], "labels": false, "title": null}},
    "y": {"field": "b", "type": "quantitative", "axis": {"orient": "right", "values": [-5,0,5,10], "labels": false, "title": null}}}}
 ],
 "resolve": {"axis": {"x": "independent", "y": "independent"}}},
{"title": "AFC Control", "width": 524, "height": 66,
 "layer": [
  {"mark": {"type": "line", "stroke": "#04318a", "strokeWidth": 1.3, "strokeJoin": "bevel", "clip": true},
   "encoding": {
    "x": {"field": "t", "type": "quantitative", "scale": {"domain": [0, 10], "nice": false}, "axis": {"orient": "bottom", "values": [0,1,2,3,4,5,6,7,8,9,10], "title": null, "labelPadding": 11}},
    "y": {"field": "c", "type": "quantitative", "scale": {"domain": [-10, 10], "nice": false, "zero": false}, "axis": {"orient": "left", "values": [-10,0,10], "title": null, "labelPadding": 9}}}},
  {"mark": {"type": "point", "opacity": 0},
   "encoding": {
    "x": {"field": "t", "type": "quantitative", "axis": {"orient": "top", "values": [0,1,2,3,4,5,6,7,8,9,10], "labels": false, "title": null}},
    "y": {"field": "c", "type": "quantitative", "axis": {"orient": "right", "values": [-10,0,10], "labels": false, "title": null}}}}
 ],
 "resolve": {"axis": {"x": "independent", "y": "independent"}}},
{"title": "PDC Control", "width": 524, "height": 66,
 "layer": [
  {"mark": {"type": "line", "stroke": "#04318a", "strokeWidth": 1.3, "strokeJoin": "bevel", "clip": true},
   "encoding": {
    "x": {"field": "t", "type": "quantitative", "scale": {"domain": [0, 10], "nice": false}, "axis": {"orient": "bottom", "values": [0,1,2,3,4,5,6,7,8,9,10], "title": "Time (Sec)", "labelPadding": 11, "titlePadding": 4}},
    "y": {"field": "d", "type": "quantitative", "scale": {"domain": [-0.45, 1.26], "nice": false, "zero": false}, "axis": {"orient": "left", "values": [0,0.5,1], "title": null, "labelPadding": 9}}}},
  {"mark": {"type": "point", "opacity": 0},
   "encoding": {
    "x": {"field": "t", "type": "quantitative", "axis": {"orient": "top", "values": [0,1,2,3,4,5,6,7,8,9,10], "labels": false, "title": null}},
    "y": {"field": "d", "type": "quantitative", "axis": {"orient": "right", "values": [0,0.5,1], "labels": false, "title": null}}}}
 ],
 "resolve": {"axis": {"x": "independent", "y": "independent"}}}
]
}
